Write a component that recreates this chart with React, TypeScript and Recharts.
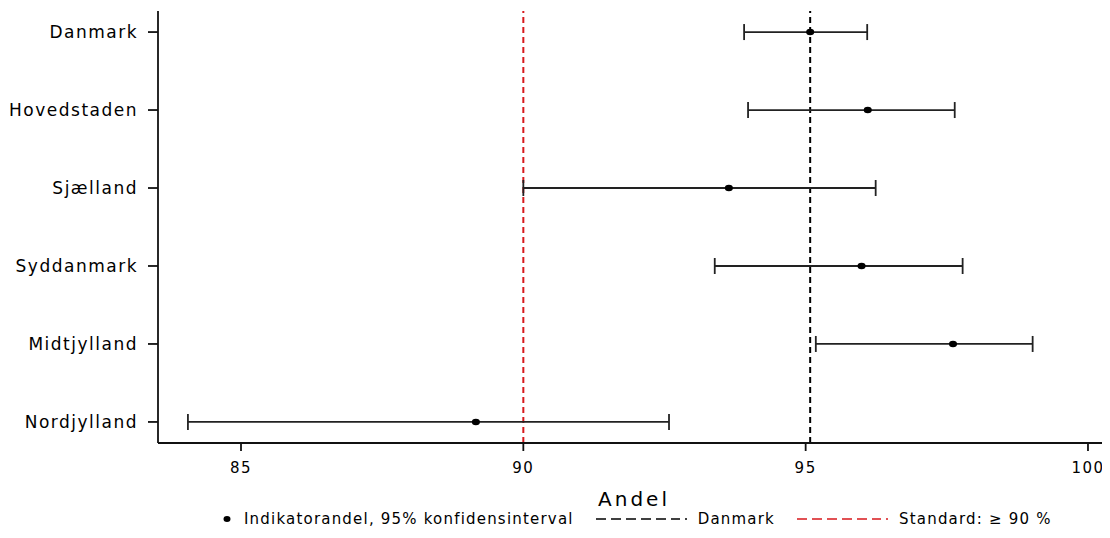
import { ScatterChart, Scatter, XAxis, YAxis, ErrorBar, ReferenceLine, Label } from 'recharts';

const regions = ['Danmark', 'Hovedstaden', 'Sjælland', 'Syddanmark', 'Midtjylland', 'Nordjylland'];
const andel = [95.08, 96.1, 93.64, 95.99, 97.61, 89.16];
const lower = [93.91, 93.98, 90.0, 93.39, 95.18, 84.06];
const upper = [96.09, 97.64, 96.24, 97.78, 99.02, 92.58];
const xTicks = [85, 90, 95, 100];
const standard = 90;
const danmark = andel[0];

const font = '"DejaVu Sans", "Open Sans", sans-serif';

const data = regions.map((name, i) => ({
  name,
  row: i,
  value: andel[i],
  err: [andel[i] - lower[i], upper[i] - andel[i]],
}));

const Dot = (props: any) => <ellipse cx={props.cx} cy={props.cy} rx={4} ry={3.3} fill="#000" />;

function LegendBox() {
  const dash = (color: string) => (
    <svg width={92} height={10}>
      <line x1={0} y1={5} x2={84} y2={5} stroke={color} strokeWidth={1.6} strokeDasharray="10 5" />
      <circle cx={90} cy={5} r={1} fill={color} />
    </svg>
  );
  return (
    <div
      style={{
        position: 'absolute',
        left: 214,
        top: 502,
        display: 'flex',
        alignItems: 'center',
        fontFamily: font,
        fontSize: 15,
        letterSpacing: 1.2,
        color: '#000',
        whiteSpace: 'nowrap',
      }}
    >
      <svg width={10} height={10} style={{ marginRight: 12 }}>
        <ellipse cx={5} cy={5} rx={3.5} ry={3} fill="#000" />
      </svg>
      <span style={{ marginRight: 22 }}>Indikatorandel, 95% konfidensinterval</span>
      {dash('#000')}
      <span style={{ marginLeft: 10, marginRight: 22 }}>Danmark</span>
      {dash('#d7191c')}
      <span style={{ marginLeft: 10 }}>Standard: ≥ 90 %</span>
    </div>
  );
}

export default function App() {
  return (
    <div style={{ position: 'relative', width: 1102, height: 522 }}>
      <ScatterChart width={1102} height={522} margin={{ top: 3, right: 0, bottom: 0, left: 0 }}>
        <XAxis
          xAxisId="top"
          orientation="top"
          type="number"
          dataKey="value"
          domain={[83.53, 100.39]}
          allowDataOverflow
          tick={false}
          tickLine={false}
          height={0}
          axisLine={{ stroke: '#111', strokeWidth: 1.8 }}
        />
        <XAxis
          type="number"
          dataKey="value"
          domain={[83.53, 100.39]}
          allowDataOverflow
          ticks={xTicks}
          height={87}
          tickSize={8}
          tickMargin={11}
          axisLine={{ stroke: '#111', strokeWidth: 1.8 }}
          tickLine={{ stroke: '#111', strokeWidth: 1.8 }}
          tick={{ fill: '#000', fontSize: 15, fontFamily: font, letterSpacing: 1.5 }}
        >
          <Label
            value="Andel"
            position="insideBottom"
            offset={24}
            style={{ fill: '#000', fontSize: 20, fontFamily: font, letterSpacing: 3 }}
          />
        </XAxis>
        <YAxis
          type="number"
          dataKey="row"
          domain={[-0.27, 5.27]}
          reversed
          ticks={[0, 1, 2, 3, 4, 5]}
          tickFormatter={(v: number) => regions[v]}
          width={150}
          tickSize={10}
          tickMargin={10}
          axisLine={{ stroke: '#111', strokeWidth: 1.8 }}
          tickLine={{ stroke: '#111', strokeWidth: 1.8 }}
          tick={{ fill: '#000', fontSize: 17, fontFamily: font, letterSpacing: 1.5 }}
        />
        <ReferenceLine x={danmark} stroke="#000" strokeWidth={2} strokeDasharray="6 4" />
        <ReferenceLine x={standard} stroke="#d7191c" strokeWidth={2} strokeDasharray="6 4" />
        <Scatter data={data} shape={Dot} isAnimationActive={false}>
          <ErrorBar dataKey="err" direction="x" width={8} stroke="#222" strokeWidth={1.8} />
        </Scatter>
      </ScatterChart>
      <LegendBox />
    </div>
  );
}
